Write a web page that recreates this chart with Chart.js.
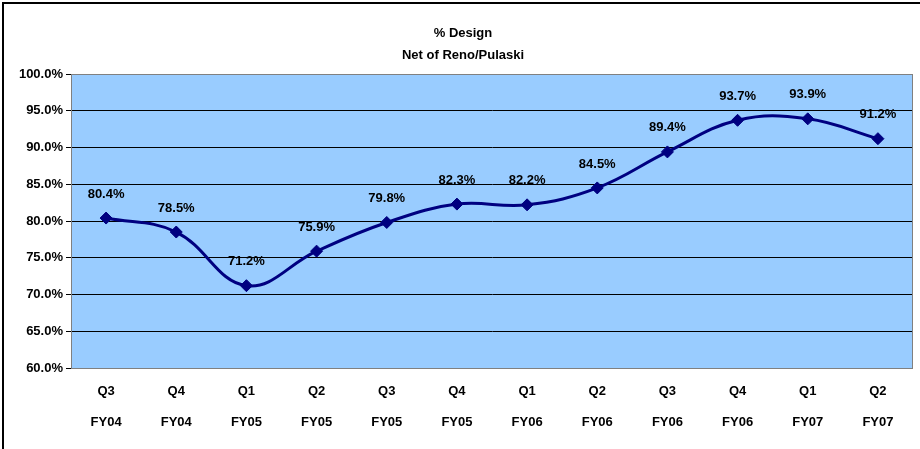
<!DOCTYPE html>
<html>
<head>
  <title>% Design - Net of Reno/Pulaski</title>
  <script src="https://cdn.jsdelivr.net/npm/chart.js"></script>
  <style>
    body { margin: 0; background: #fff; }
    #wrap { width: 920px; height: 449px; }
  </style>
</head>
<body>
  <div id="wrap"><canvas id="myChart" width="920" height="449"></canvas></div>

  <script>
    // chart data
    const quarters = ['Q3', 'Q4', 'Q1', 'Q2', 'Q3', 'Q4', 'Q1', 'Q2', 'Q3', 'Q4', 'Q1', 'Q2'];
    const fiscalYears = ['FY04', 'FY04', 'FY05', 'FY05', 'FY05', 'FY05', 'FY06', 'FY06', 'FY06', 'FY06', 'FY07', 'FY07'];
    const designPct = [80.4, 78.5, 71.2, 75.9, 79.8, 82.3, 82.2, 84.5, 89.4, 93.7, 93.9, 91.2];
    const titleLines = ['% Design', 'Net of Reno/Pulaski'];

    const fontFamily = '"Liberation Sans", Arial, sans-serif';
    const labels = quarters.map((q, i) => [q, fiscalYears[i]]);

    // background of plot area, outer frame, title and the point labels
    const decor = {
      id: 'decor',
      beforeDraw(chart) {
        const ctx = chart.ctx;
        const a = chart.chartArea;
        ctx.save();
        ctx.fillStyle = '#99CCFF';
        ctx.fillRect(a.left, a.top, a.right - a.left, a.bottom - a.top);
        // outer frame
        ctx.strokeStyle = '#000';
        ctx.lineWidth = 2;
        ctx.strokeRect(3, 3, 940, 470);
        // title
        ctx.fillStyle = '#000';
        ctx.font = 'bold 13px ' + fontFamily;
        ctx.textAlign = 'center';
        ctx.textBaseline = 'middle';
        ctx.fillText(titleLines[0], 463, 33);
        ctx.fillText(titleLines[1], 463, 55);
        ctx.restore();
      },
      afterDatasetsDraw(chart) {
        const ctx = chart.ctx;
        const a = chart.chartArea;
        ctx.save();
        ctx.strokeStyle = '#808080';
        ctx.lineWidth = 1;
        ctx.strokeRect(a.left + 0.5, a.top + 0.5, a.right - a.left - 1, a.bottom - a.top);
        ctx.fillStyle = '#000';
        ctx.font = 'bold 13px ' + fontFamily;
        ctx.textAlign = 'center';
        ctx.textBaseline = 'middle';
        chart.getDatasetMeta(0).data.forEach((pt, i) => {
          ctx.fillText(designPct[i].toFixed(1) + '%', pt.x, pt.y - 24);
        });
        ctx.restore();
      }
    };

    const ctx = document.getElementById('myChart').getContext('2d');
    const myChart = new Chart(ctx, {
      type: 'line',
      data: {
        labels: labels,
        datasets: [{
          label: '% Design',
          data: designPct,
          borderColor: '#000080',
          backgroundColor: '#000080',
          borderWidth: 3,
          tension: 0.4,
          pointStyle: 'rectRot',
          pointRadius: 6,
          pointBorderWidth: 1
        }]
      },
      options: {
        responsive: false,
        animation: false,
        layout: { padding: { top: 74, left: 8, right: 2, bottom: 10 } },
        plugins: {
          legend: { display: false },
          title: { display: false },
          tooltip: { enabled: false }
        },
        scales: {
          x: {
            offset: true,
            grid: { display: false },
            border: { display: false },
            ticks: {
              color: '#000',
              maxRotation: 0,
              autoSkip: false,
              padding: 0,
              font: { family: fontFamily, size: 13, weight: 'bold', lineHeight: 2.4 }
            },
            afterFit(axis) { axis.height = 71; }
          },
          y: {
            min: 60,
            max: 100,
            grid: { color: '#000', lineWidth: 1, tickLength: 5, drawTicks: true },
            border: { color: '#000', width: 1 },
            ticks: {
              stepSize: 5,
              color: '#000',
              padding: 3,
              font: { family: fontFamily, size: 13, weight: 'bold' },
              callback: v => v.toFixed(1) + '%'
            },
            afterFit(axis) { axis.width = 63; }
          }
        }
      },
      plugins: [decor]
    });
  </script>
</body>
</html>
